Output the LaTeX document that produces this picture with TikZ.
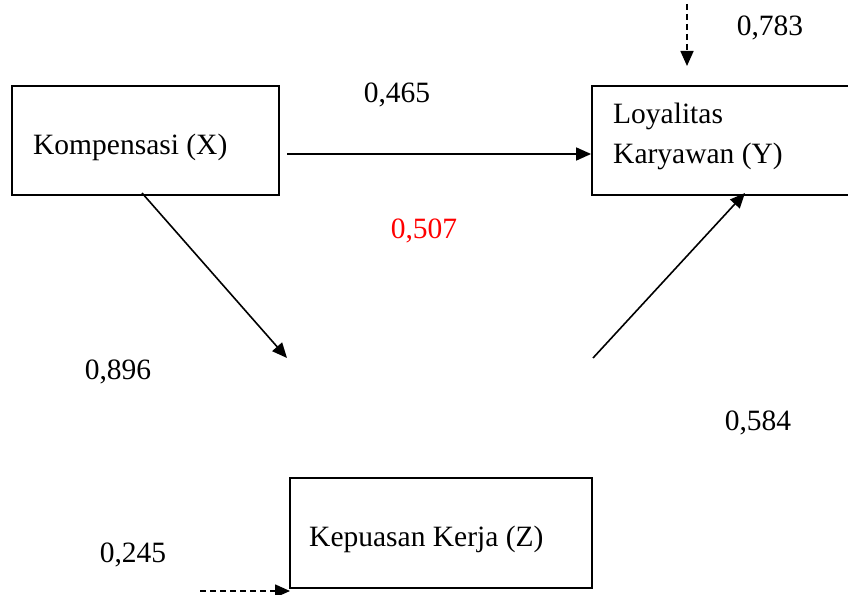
\documentclass[tikz,border=0pt]{standalone}
\usepackage{fontspec}
\setmainfont{Liberation Serif}
\usetikzlibrary{arrows.meta}
\begin{document}
\begin{tikzpicture}[x=1pt,y=-1pt,
  box/.style={draw,line width=1.8pt,minimum width=#1,minimum height=109pt,inner sep=0pt},
  lbl/.style={font=\rmfamily\fontsize{29.5}{40}\selectfont,inner sep=0pt},
  conn/.style={line width=1.6pt,-{Triangle[length=15pt,width=13pt]}},
  dconn/.style={conn,dash pattern=on 6pt off 4pt}]
\useasboundingbox (0,0) rectangle (848,594);
% boxes
\node[box=267pt] (X) at (145.5,140.5) {};
\node[box=268pt] (Y) at (726,140.5) {};
\node[box=302pt,minimum height=110pt] (Z) at (441,533) {};
% box texts
\node[lbl,anchor=west] (tx) at (33,147) {Kompensasi (X)};
\node[lbl,anchor=west,align=left] (ty) at (613,136) {Loyalitas\\Karyawan (Y)};
\node[lbl,anchor=west] (tz) at (309,539) {Kepuasan Kerja (Z)};
% coordinates for connector ends
\coordinate (a1) at (287,154);
\coordinate (b1) at (142,193);
\coordinate (b2) at (287,358);
\coordinate (c1) at (593,358);
\coordinate (c2) at (745,193);
\coordinate (d1) at (687,4);
\coordinate (d2) at (687,66);
\coordinate (e1) at (200,591);
\coordinate (e2) at (290,591);
% connectors
\draw[conn] (a1) -- (Y.west |- a1);
\draw[conn] (b1) -- (b2);
\draw[conn] (c1) -- (c2);
\draw[dconn] (d1) -- (d2);
\draw[dconn] (e1) -- (e2);
% coefficient labels
\node[lbl] (l465) at (397,95) {0,465};
\node[lbl] (l783) at (770,28) {0,783};
\node[lbl,text=red] (l507) at (424,231) {0,507};
\node[lbl] (l896) at (118,372) {0,896};
\node[lbl] (l584) at (758,423) {0,584};
\node[lbl] (l245) at (133,555) {0,245};
\end{tikzpicture}
\end{document}
